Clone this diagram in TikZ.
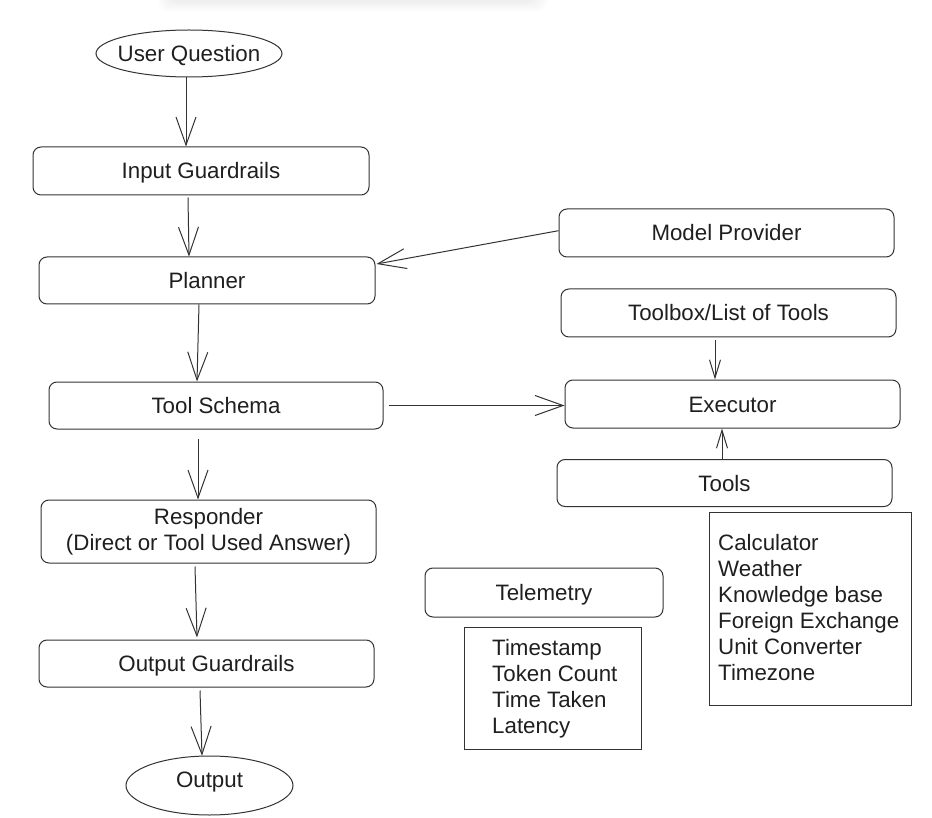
\documentclass[tikz,border=0pt]{standalone}
\usepackage{fontspec}
\setmainfont{Liberation Sans}
\usetikzlibrary{arrows.meta,shapes.geometric,calc}
\definecolor{ln}{HTML}{333333}
\definecolor{tx}{HTML}{1F1F1F}
\begin{document}
\begin{tikzpicture}[x=1pt,y=-1pt,
  every node/.style={font=\fontsize{22.3}{26.5}\selectfont, text=tx},
  box/.style={draw=ln, line width=1pt, rounded corners=8pt, inner sep=0pt, align=center},
  oneline/.style={text height=16pt, text depth=0pt},
  ellnode/.style={inner sep=0pt, text height=16pt, text depth=0pt},
  plainbox/.style={draw=ln, line width=1pt, inner sep=0pt},
  item/.style={anchor=base west, inner sep=0pt},
  arr/.style={draw=ln, line width=1pt, -{Straight Barb[length=28pt,width=20pt]}},
  sarr/.style={draw=ln, line width=1pt, -{Straight Barb[length=18pt,width=11pt]}}]

\fill[white] (0,0) rectangle (932,818);
\useasboundingbox (0,0) rectangle (932,818);
\foreach \i in {0,...,7}{
  \fill[black,opacity=0.008,rounded corners=10pt] (168-1.5*\i,-20) rectangle (537+1.5*\i,2+1.4*\i);
}

% left column
\node[ellnode, minimum width=186pt, minimum height=47pt] (uq) at (189,53.5) {User Question};
\draw[ln, line width=1pt] (uq.center) ellipse [x radius=93pt, y radius=23.5pt];
\node[box, oneline, minimum width=336pt, minimum height=48pt] (ig) at (201,171) {Input Guardrails};
\node[box, oneline, minimum width=336pt, minimum height=47pt] (pl) at (207,280.5) {Planner};
\node[box, oneline, minimum width=334pt, minimum height=47pt] (ts) at (216,405.5) {Tool Schema};
\node[box, minimum width=335pt, minimum height=63pt] (rs) at (208.5,531.5) {Responder\\(Direct or Tool Used Answer)};
\node[box, oneline, minimum width=335pt, minimum height=47pt] (og) at (206.5,663.5) {Output Guardrails};
\node[ellnode, text depth=12pt, minimum width=167pt, minimum height=59pt] (out) at (209.5,785.5) {Output};
\draw[ln, line width=1pt] (out.center) ellipse [x radius=83.5pt, y radius=29.5pt];

% right column
\node[box, oneline, minimum width=335pt, minimum height=48pt] (mp) at (726.5,233) {Model Provider};
\node[box, oneline, minimum width=335pt, minimum height=48pt] (tb) at (728.5,313) {Toolbox/List of Tools};
\node[box, oneline, minimum width=335pt, minimum height=48pt] (ex) at (732.5,404) {Executor};
\node[box, oneline, minimum width=335pt, minimum height=47pt] (tl) at (724.5,483) {Tools};

% telemetry
\node[box, oneline, minimum width=238pt, minimum height=49pt] (tm) at (544,592.5) {Telemetry};
\node[plainbox, minimum width=177pt, minimum height=122pt] (tml) at (552.5,688) {};
\node[item] (m1) at (492,655.5) {Timestamp};
\node[item] (m2) at (492,681.5) {Token Count};
\node[item] (m3) at (492,707) {Time Taken};
\node[item] (m4) at (492,733) {Latency};

% tools list
\node[plainbox, minimum width=202pt, minimum height=193pt] (tll) at (810,608.5) {};
\node[item] (k1) at (718,550) {Calculator};
\node[item] (k2) at (718,576) {Weather};
\node[item] (k3) at (718,602) {Knowledge base};
\node[item] (k4) at (718,628) {Foreign Exchange};
\node[item] (k5) at (718,654) {Unit Converter};
\node[item] (k6) at (718,680) {Timezone};

% connectors
\draw[arr] ([xshift=-3pt]uq.south) -- ([xshift=-15pt]ig.north);
\draw[arr] ([xshift=-13pt,yshift=-2pt]ig.south) -- ([xshift=-18pt]pl.north);
\draw[arr] ([yshift=2.3pt]mp.west) -- ([xshift=1pt,yshift=16.5pt]pl.east);
\draw[arr] ([xshift=-8pt]pl.south) -- ([xshift=-19pt]ts.north);
\draw[arr] ([xshift=5pt]ts.east) -- (ts.east -| ex.west);
\draw[sarr] ([xshift=-13.5pt,yshift=-3pt]tb.south) -- ([xshift=-17.5pt]ex.north);
\draw[sarr] ([xshift=-2.5pt]tl.north) -- ([xshift=-10.5pt]ex.south);
\draw[arr] ([xshift=-18pt,yshift=-9pt]ts.south) -- ([xshift=-10.5pt]rs.north);
\draw[arr] ([xshift=-13.5pt,yshift=-3pt]rs.south) -- ([xshift=-9.5pt,yshift=2pt]og.north);
\draw[arr] ([xshift=-6.5pt,yshift=-3pt]og.south) -- ([xshift=-7.5pt]out.north);
\end{tikzpicture}
\end{document}
